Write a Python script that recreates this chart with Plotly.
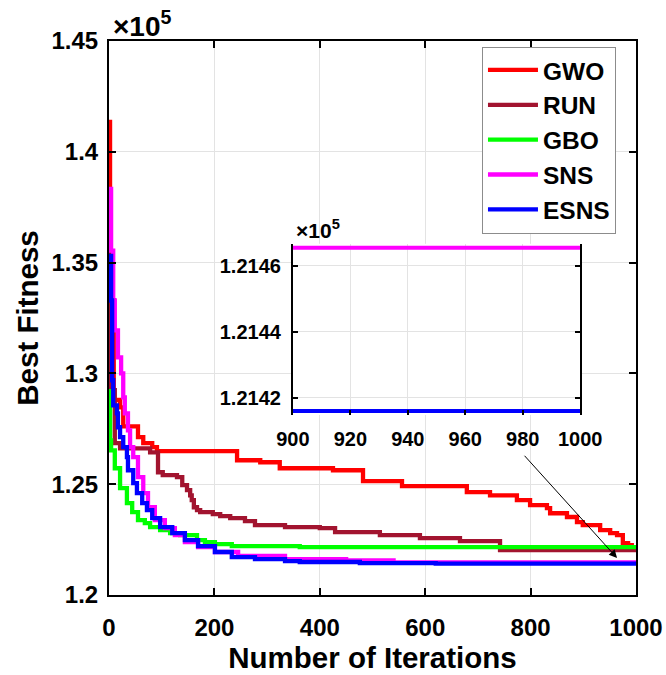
import plotly.graph_objects as go

# Convergence histories (iteration, best fitness) as step breakpoints
gwo_iter = [0, 2, 9, 21, 27, 55, 65, 82, 91, 243, 287, 324, 425, 482, 556, 679, 723, 774,
            799, 831, 837, 869, 888, 899, 932, 951, 964, 975, 985, 992, 1000]
gwo_fit = [141350, 133300, 128800, 128470, 127610, 127120, 126850, 126670, 126490, 126080,
           125990, 125720, 125630, 125135, 124910, 124640, 124500, 124280, 124060, 123920,
           123690, 123520, 123290, 123150, 122930, 122790, 122700, 122340, 122250, 122160, 122110]

run_iter = [0, 2, 4, 11, 21, 78, 93, 102, 129, 139, 148, 154, 157, 161, 167, 173, 197, 211,
            230, 258, 277, 334, 400, 429, 514, 590, 666, 742, 1000]
run_fit = [136300, 130900, 129240, 126850, 126620, 126440, 125540, 125410, 125320, 124960,
           124730, 124500, 124280, 123960, 123830, 123740, 123650, 123560, 123470, 123330,
           123150, 123060, 123020, 122840, 122700, 122570, 122430, 122030, 121940]

gbo_iter = [0, 2, 4, 11, 21, 34, 44, 55, 68, 78, 97, 116, 135, 167, 182, 201, 233, 362, 1000]
gbo_fit = [129200, 126980, 126530, 125720, 124820, 124150, 123740, 123380, 123240, 123060,
           122930, 122790, 122700, 122480, 122390, 122300, 122210, 122160, 122130]

sns_iter = [0, 4, 8, 11, 17, 23, 27, 30, 36, 40, 46, 55, 65, 74, 87, 106, 125, 144, 169, 201,
            245, 334, 450, 540, 1000]
sns_fit = [138330, 135540, 133290, 131940, 130720, 130000, 128920, 128200, 127430, 126670,
           126220, 125320, 124600, 123960, 123380, 123020, 122700, 122390, 122160, 121940,
           121760, 121620, 121560, 121465.5, 121465.5]

esns_iter = [0, 4, 6, 8, 15, 17, 21, 27, 34, 36, 46, 53, 63, 72, 82, 97, 120, 144, 169, 201,
             233, 277, 334, 362, 476, 620, 1000]
esns_fit = [135300, 133290, 129690, 128560, 128200, 127570, 127120, 126670, 126220, 125630,
            125050, 124600, 124150, 123830, 123470, 123060, 122790, 122480, 122210, 121940,
            121710, 121620, 121530, 121490, 121440, 121416, 121416]

names = ["GWO", "RUN", "GBO", "SNS", "ESNS"]
colors = ["#ff0000", "#a2142f", "#00ff00", "#ff00ff", "#0000ff"]

y_ticks = [120000, 125000, 130000, 135000, 140000, 145000]
y_ticktext = ["1.2", "1.25", "1.3", "1.35", "1.4", "1.45"]
x_ticks = [0, 200, 400, 600, 800, 1000]

inset_x_ticks = [900, 920, 940, 960, 980, 1000]
inset_y_ticks = [121420, 121440, 121460]
inset_y_ticktext = ["1.2142", "1.2144", "1.2146"]

# arrow from the inset towards the zoomed tail of the curves
arrow_tail = (786, 126350)
arrow_head = (964, 121670)

FONT = "Liberation Sans, Arial, sans-serif"


def window(it, fit, lo, hi):
    """Slice a step series to [lo, hi], keeping the step value held at lo."""
    start = fit[0]
    for i, f in zip(it, fit):
        if i <= lo:
            start = f
    xs, ys = [lo], [start]
    for i, f in zip(it, fit):
        if lo < i <= hi:
            xs.append(i)
            ys.append(f)
    if xs[-1] < hi:
        xs.append(hi)
        ys.append(ys[-1])
    return xs, ys


series = [(gwo_iter, gwo_fit), (run_iter, run_fit), (gbo_iter, gbo_fit),
          (sns_iter, sns_fit), (esns_iter, esns_fit)]

fig = go.Figure()
for name, color, (it, fit) in zip(names, colors, series):
    fig.add_trace(go.Scatter(x=it, y=fit, mode="lines", name=name,
                             line=dict(color=color, width=4.3, shape="hv"),
                             xaxis="x", yaxis="y"))

# zoomed view of the last 100 iterations for SNS and ESNS
for idx in (3, 4):
    it, fit = series[idx]
    xs, ys = window(it, fit, 900, 1000)
    fig.add_trace(go.Scatter(x=xs, y=ys, mode="lines", showlegend=False,
                             line=dict(color=colors[idx], width=4, shape="hv"),
                             xaxis="x2", yaxis="y2"))

axis_common = dict(showline=True, linecolor="black", linewidth=2, mirror="ticks",
                   ticks="inside", ticklen=7, tickwidth=2, tickcolor="black",
                   showgrid=True, gridcolor="#e3e3e3", gridwidth=1, zeroline=False,
                   automargin=False,
                   tickfont=dict(family=FONT, size=24, color="black", weight="bold"))

inset_common = dict(ticks="inside", ticklen=5, tickwidth=1.5, tickcolor="black",
                    showgrid=True, gridcolor="#e3e3e3", zeroline=False, automargin=False,
                    tickfont=dict(family=FONT, size=20, color="black", weight="bold"))

fig.update_layout(
    width=666, height=675,
    margin=dict(l=109, r=30, t=41, b=80, autoexpand=False),
    paper_bgcolor="white", plot_bgcolor="white",
    font=dict(family=FONT, color="black"),
    xaxis=dict(axis_common, range=[0, 1000], tickvals=x_ticks, domain=[0, 1],
               ticklabelstandoff=10,
               title=dict(text="Number of Iterations", standoff=6,
                          font=dict(family=FONT, size=29.5, weight="bold"))),
    yaxis=dict(axis_common, range=[120000, 145000], tickvals=y_ticks, ticktext=y_ticktext,
               domain=[0, 1], ticklabelstandoff=4,
               title=dict(text="Best Fitness", standoff=4,
                          font=dict(family=FONT, size=29.5, weight="bold"))),
    xaxis2=dict(inset_common, range=[900, 1000], tickvals=inset_x_ticks,
                domain=[0.349, 0.894], anchor="y2", showline=False,
                ticklabelstandoff=10),
    yaxis2=dict(inset_common, range=[121414.8, 121466.7], tickvals=inset_y_ticks,
                ticktext=inset_y_ticktext, domain=[0.325, 0.634], anchor="x2",
                showline=True, linecolor="black", linewidth=2, mirror="ticks",
                ticklabelstandoff=6),
    legend=dict(x=0.962, y=0.99, xanchor="right", yanchor="top", itemwidth=50,
                bgcolor="white", bordercolor="#8c8c8c", borderwidth=1,
                font=dict(family=FONT, size=24.5, color="black", weight="bold")),
    showlegend=True,
)

fig.add_annotation(x=0.004, y=1.0, xref="paper", yref="paper", xanchor="left",
                   yanchor="bottom", showarrow=False, yshift=-3,
                   text="×10<sup>5</sup>",
                   font=dict(family=FONT, size=28, color="black", weight="bold"))
fig.add_annotation(x=0.351, y=0.634, xref="paper", yref="paper", xanchor="left",
                   yanchor="bottom", showarrow=False,
                   text="×10<sup>5</sup>",
                   font=dict(family=FONT, size=21, color="black", weight="bold"))

fig.add_annotation(x=arrow_head[0], y=arrow_head[1], ax=arrow_tail[0], ay=arrow_tail[1],
                   xref="x", yref="y", axref="x", ayref="y", text="", showarrow=True,
                   arrowhead=2, arrowsize=1.6, arrowwidth=1, arrowcolor="black")

fig.write_html("out.html")
